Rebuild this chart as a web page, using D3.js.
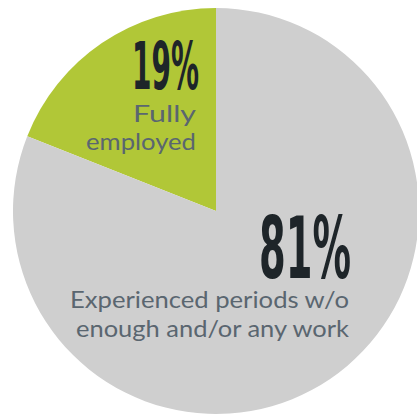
<!DOCTYPE html>
<html lang="en">
<head>
    <meta charset="UTF-8">
    <script type="text/javascript" src="https://d3js.org/d3.v7.min.js"></script>
    <title>Employment pie</title>
    <style>
        body { margin: 0; background: #fff; }
    </style>
</head>
<body>
    <svg id="pie"></svg>
    <script>
        const width = 417;
        const height = 418;

        // data
        const categories = ["Fully employed", "Experienced periods w/o enough and/or any work"];
        const shares = [19, 81];
        const pctLabels = ["19%", "81%"];
        const labelLines = [["Fully", "employed"], ["Experienced periods w/o", "enough and/or any work"]];
        const colors = ["#b1c737", "#cfcfcf"];

        const cx = 216, cy = 211, radius = 203;

        const svg = d3.select("#pie").attr("width", width).attr("height", height);
        const g = svg.append("g").attr("transform", `translate(${cx},${cy})`);

        // first slice ends at 12 o'clock, going back counter-clockwise
        const total = d3.sum(shares);
        const start = -2 * Math.PI * shares[0] / total;
        const arcs = d3.pie().sort(null)
            .startAngle(start).endAngle(start + 2 * Math.PI)
            .value(d => d)(shares);
        const arc = d3.arc().innerRadius(0).outerRadius(radius);

        g.selectAll("path").data(arcs).join("path")
            .attr("d", arc)
            .attr("fill", (d, i) => colors[i]);

        // label placement (relative to centre), right-aligned
        const labelPos = [
            {x: -17, y: -122, size: 65, w: 67, lx: -20, ly: [-89, -61], lsize: 23, lw: [63, 110]},
            {x: 135, y: 67, size: 86, w: 92, lx: 133, ly: [97, 126], lsize: 23, lw: [279, 273]}
        ];

        categories.forEach((c, i) => {
            const p = labelPos[i];
            g.append("text")
                .attr("x", p.x).attr("y", p.y)
                .attr("text-anchor", "end")
                .attr("font-family", "'Liberation Sans Narrow', 'DejaVu Sans Condensed', sans-serif")
                .attr("font-weight", "bold")
                .attr("font-size", p.size)
                .attr("fill", "#1e2529")
                .attr("textLength", p.w)
                .attr("lengthAdjust", "spacingAndGlyphs")
                .text(pctLabels[i]);
            labelLines[i].forEach((line, j) => {
                g.append("text")
                    .attr("x", p.lx).attr("y", p.ly[j])
                    .attr("text-anchor", "end")
                    .attr("font-family", "Lato, 'Noto Sans', sans-serif")
                    .attr("font-size", p.lsize)
                    .attr("fill", "#5a6670")
                    .attr("textLength", p.lw[j])
                    .attr("lengthAdjust", "spacingAndGlyphs")
                    .text(line);
            });
        });
    </script>
</body>
</html>
